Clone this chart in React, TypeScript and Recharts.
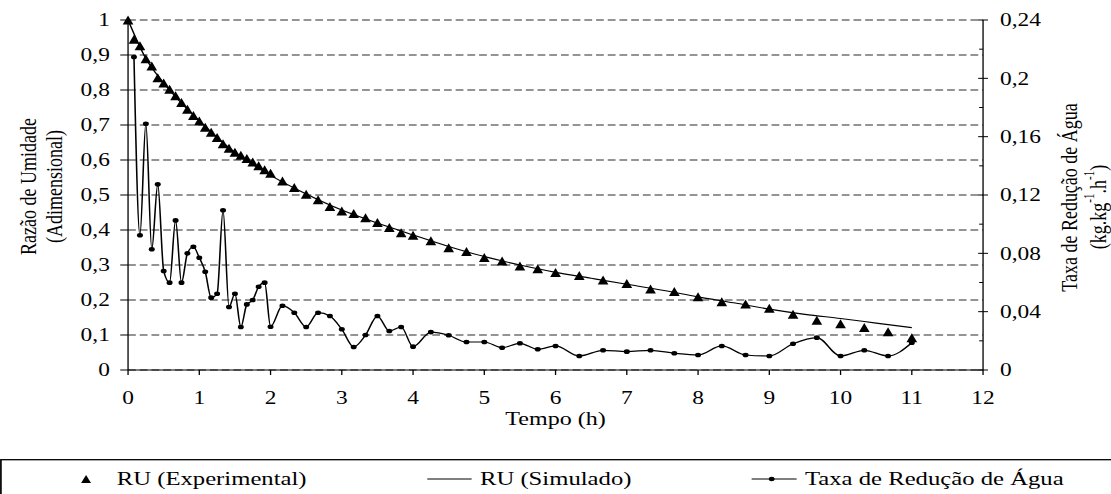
import { ComposedChart, Line, Scatter, XAxis, YAxis, CartesianGrid, Legend, Label } from "recharts";

// tempo (h) das leituras experimentais
const tempos = [
  0, 0.083, 0.167, 0.25, 0.333, 0.417, 0.5, 0.583, 0.667, 0.75, 0.833, 0.917, 1.0,
  1.083, 1.167, 1.25, 1.333, 1.417, 1.5, 1.583, 1.667, 1.75, 1.833, 1.917, 2.0,
  2.167, 2.333, 2.5, 2.667, 2.833, 3.0, 3.167, 3.333, 3.5, 3.667, 3.833, 4.0,
  4.25, 4.5, 4.75, 5.0, 5.25, 5.5, 5.75, 6.0,
  6.333, 6.667, 7.0, 7.333, 7.667, 8.0, 8.333, 8.667, 9.0, 9.333, 9.667, 10.0, 10.333, 10.667, 11.0,
];

const ruExperimental = [
  1.0, 0.945, 0.926, 0.889, 0.868, 0.835, 0.82, 0.802, 0.783, 0.764, 0.745, 0.727, 0.711,
  0.693, 0.679, 0.664, 0.646, 0.633, 0.622, 0.613, 0.604, 0.594, 0.583, 0.572, 0.562,
  0.54, 0.521, 0.502, 0.486, 0.467, 0.454, 0.447, 0.435, 0.421, 0.407, 0.392, 0.385,
  0.369, 0.349, 0.338, 0.321, 0.311, 0.297, 0.289, 0.278,
  0.27, 0.257, 0.247, 0.231, 0.224, 0.209, 0.195, 0.188, 0.176, 0.159, 0.142, 0.132, 0.121, 0.109, 0.092,
];

// taxa de reducao de agua (sem valor em t = 0)
const taxaReducao = [
  0.2146, 0.0924, 0.1689, 0.0828, 0.1273, 0.0679, 0.0599, 0.1026, 0.0599, 0.08, 0.0845, 0.077,
  0.0674, 0.0496, 0.0523, 0.1095, 0.0432, 0.0523, 0.0295, 0.045, 0.048, 0.0571, 0.0599, 0.0297,
  0.0441, 0.0393, 0.0295, 0.0393, 0.037, 0.0279, 0.0158, 0.024, 0.037, 0.0267, 0.0295, 0.016,
  0.026, 0.0238, 0.0192, 0.0192, 0.0153, 0.0183, 0.0142, 0.0165,
  0.0096, 0.0135, 0.0126, 0.0135, 0.0115, 0.0103, 0.0165, 0.0103, 0.0096, 0.018, 0.0222, 0.0096, 0.0135, 0.0096, 0.0187,
];

const temposSimulado = [0, 0.25, 0.5, 0.75, 1, 1.5, 2, 2.5, 3, 3.5, 4, 4.5, 5, 5.5, 6, 6.5, 7, 7.5, 8, 8.5, 9, 9.5, 10, 10.5, 11];
const ruSimulado = [
  1.0, 0.89, 0.82, 0.762, 0.712, 0.622, 0.556, 0.503, 0.457, 0.42, 0.386, 0.353, 0.324, 0.3,
  0.279, 0.262, 0.245, 0.228, 0.209, 0.192, 0.174, 0.159, 0.147, 0.134, 0.121,
];

const xTicks = [0, 1, 2, 3, 4, 5, 6, 7, 8, 9, 10, 11, 12];
const leftTicks = [0, 0.1, 0.2, 0.3, 0.4, 0.5, 0.6, 0.7, 0.8, 0.9, 1];
const rightTicks = [0, 0.02, 0.04, 0.06, 0.08, 0.1, 0.12, 0.14, 0.16, 0.18, 0.2, 0.22, 0.24];

const expData = tempos.map((t, i) => ({ t, ru: ruExperimental[i] }));
const simData = temposSimulado.map((t, i) => ({ t, ru: ruSimulado[i] }));
const taxaData = tempos.slice(1).map((t, i) => ({ t, taxa: taxaReducao[i] }));

const FONT = "'Liberation Serif', 'Times New Roman', serif";
// a figura original esta esticada na horizontal
const SX = 1.3;
const W = 855;
const H = 494;

const fmt = (v: number) => String(Math.round(v * 100) / 100).replace(".", ",");

function Triangle(props: any) {
  const { cx, cy } = props;
  if (cx == null || cy == null) return null;
  return <polygon points={`${cx},${cy - 4.6} ${cx - 4.1},${cy + 4.4} ${cx + 4.1},${cy + 4.4}`} fill="#000" />;
}

function RightTick(props: any) {
  const { x, y, payload } = props;
  const axisX = x - 13;
  const major = Math.round(payload.value * 100) % 4 === 0;
  if (!major) return <line x1={axisX - 3} x2={axisX} y1={y} y2={y} stroke="#000" />;
  return (
    <g>
      <line x1={axisX - 3.8} x2={axisX + 3.8} y1={y} y2={y} stroke="#000" />
      <text x={x} y={y} dy="0.35em" textAnchor="start" fontSize={18} fontFamily={FONT} fill="#000">
        {fmt(payload.value)}
      </text>
    </g>
  );
}

function LeftTitle(props: any) {
  const vb = props.viewBox;
  const y = vb.y + 166.5;
  return (
    <g fontFamily={FONT} fontSize={18} fill="#000">
      <text transform={`translate(${vb.x + 21.8},${y}) rotate(-90)`} textAnchor="middle" dominantBaseline="central">
        Razão de Umidade
      </text>
      <text transform={`translate(${vb.x + 41.5},${y}) rotate(-90)`} textAnchor="middle" dominantBaseline="central">
        (Adimensional)
      </text>
    </g>
  );
}

function RightTitle(props: any) {
  const vb = props.viewBox;
  return (
    <g fontFamily={FONT} fontSize={18} fill="#000">
      <text transform={`translate(${vb.x + 66},${vb.y + 177.5}) rotate(-90)`} textAnchor="middle" dominantBaseline="central">
        Taxa de Redução de Água
      </text>
      <text transform={`translate(${vb.x + 88.5},${vb.y + 187}) rotate(-90)`} textAnchor="middle" dominantBaseline="central">
        <tspan>(kg.kg</tspan>
        <tspan fontSize={11} dy={-7}>-1</tspan>
        <tspan dy={7}>.h</tspan>
        <tspan fontSize={11} dy={-7}>-1</tspan>
        <tspan dy={7}>)</tspan>
      </text>
    </g>
  );
}

function XTitle(props: any) {
  const vb = props.viewBox;
  return (
    <text x={vb.x + vb.width / 2} y={419} textAnchor="middle" dominantBaseline="central" fontFamily={FONT} fontSize={18.5} fill="#000">
      Tempo (h)
    </text>
  );
}

function LegendBox() {
  const cy = 20;
  return (
    <svg width={880} height={60} style={{ overflow: "visible", display: "block" }}>
      <rect x={0.7} y={0.7} width={1000} height={100} fill="none" stroke="#000" strokeWidth={1.3} />
      <g fontFamily={FONT} fontSize={19} fill="#000">
        <polygon points={`66.2,${cy - 4} 62.4,${cy + 4} 70,${cy + 4}`} fill="#000" />
        <text x={89.8} y={cy} dominantBaseline="central">RU (Experimental)</text>
        <line x1={328.7} x2={362.8} y1={cy} y2={cy} stroke="#000" strokeWidth={1.1} />
        <text x={369.2} y={cy} dominantBaseline="central">RU (Simulado)</text>
        <line x1={578.2} x2={612.8} y1={cy} y2={cy} stroke="#000" strokeWidth={1.2} />
        <circle cx={593.6} cy={cy} r={2.2} fill="#000" />
        <text x={619.2} y={cy} dominantBaseline="central">Taxa de Redução de Água</text>
      </g>
    </svg>
  );
}

export default function App() {
  return (
    <div style={{ position: "fixed", left: 0, top: 0, width: 1111, height: 494, overflow: "hidden", background: "#fff" }}>
      <div style={{ width: W, height: H, transform: `scaleX(${SX})`, transformOrigin: "0 0" }}>
        <ComposedChart width={W} height={H} margin={{ top: 20, right: 0, bottom: 94, left: 0 }}>
          <CartesianGrid yAxisId="left" vertical={false} stroke="#2a2a2a" strokeDasharray="6 3" />
          <XAxis
            type="number"
            dataKey="t"
            domain={[0, 12]}
            ticks={xTicks}
            interval={0}
            height={30}
            tickSize={5}
            tickMargin={16}
            axisLine={{ stroke: "#000" }}
            tickLine={{ stroke: "#000" }}
            tick={{ fill: "#000", fontSize: 18, fontFamily: FONT }}
          >
            <Label content={XTitle} />
          </XAxis>
          <YAxis
            yAxisId="left"
            type="number"
            domain={[0, 1]}
            ticks={leftTicks}
            interval={0}
            width={98.5}
            tickSize={6}
            tickMargin={8}
            tickFormatter={fmt}
            axisLine={{ stroke: "#000" }}
            tickLine={{ stroke: "#000" }}
            tick={{ fill: "#000", fontSize: 18, fontFamily: FONT }}
          >
            <Label content={LeftTitle} />
          </YAxis>
          <YAxis
            yAxisId="right"
            orientation="right"
            type="number"
            domain={[0, 0.24]}
            ticks={rightTicks}
            interval={0}
            width={98.8}
            tickSize={0}
            tickMargin={13}
            tickLine={false}
            axisLine={{ stroke: "#000" }}
            tick={RightTick}
          >
            <Label content={RightTitle} />
          </YAxis>
          <Legend
            layout="vertical"
            verticalAlign="middle"
            align="center"
            wrapperStyle={{ left: 0, top: 459, width: 880, height: 60 }}
            content={() => <LegendBox />}
          />
          <Scatter
            name="RU (Experimental)"
            data={expData}
            dataKey="ru"
            yAxisId="left"
            fill="#000"
            shape={(p: any) => <Triangle {...p} />}
            isAnimationActive={false}
          />
          <Line
            name="RU (Simulado)"
            data={simData}
            dataKey="ru"
            yAxisId="left"
            type="monotone"
            stroke="#000"
            strokeWidth={1.1}
            dot={false}
            activeDot={false}
            isAnimationActive={false}
          />
          <Line
            name="Taxa de Redução de Água"
            data={taxaData}
            dataKey="taxa"
            yAxisId="right"
            type="monotone"
            stroke="#000"
            strokeWidth={1.2}
            dot={{ r: 2.3, fill: "#000", stroke: "#000", strokeWidth: 0 }}
            activeDot={false}
            isAnimationActive={false}
          />
        </ComposedChart>
      </div>
    </div>
  );
}
